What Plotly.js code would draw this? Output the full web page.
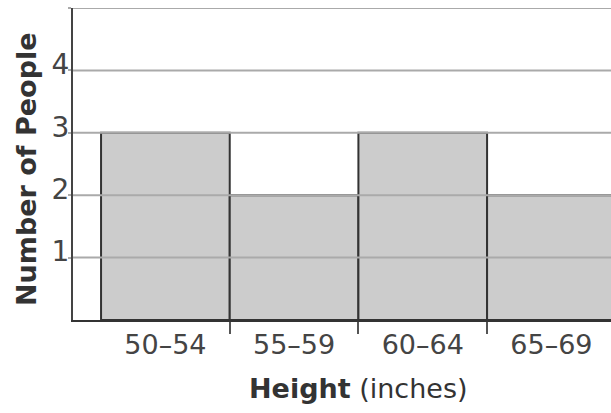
<!DOCTYPE html>
<html>
<head>
<meta charset="utf-8">
<script src="https://cdn.plot.ly/plotly-3.0.1.min.js"></script>
<style>html,body{margin:0;padding:0;background:#fff;}#chart{width:611px;height:413px;}</style>
</head>
<body>
<div id="chart"></div>
<script>
const categories = ['50–54', '55–59', '60–64', '65–69'];
const counts = [3, 2, 3, 2];
const yTickVals = [1, 2, 3, 4, 5];
const yTickText = ['1', '2', '3', '4', ''];
const xTitle = '<b>Height</b> (inches)';
const yTitle = '<b>Number of People</b>';

const xPos = categories.map((c, i) => i);
const boundaries = categories.slice(1).map((c, i) => i + 0.5);

const font = 'DejaVu Sans, Verdana, sans-serif';

// gridlines drawn above the bars, as in the reference
const gridShapes = yTickVals.map(v => ({
  type: 'line', xref: 'paper', yref: 'y', x0: 0, x1: 1, y0: v, y1: v,
  line: {color: '#aaaaaa', width: 2}, layer: 'above'
}));

Plotly.newPlot('chart', [{
  type: 'bar',
  x: xPos,
  y: counts,
  width: 1,
  marker: {color: '#cccccc', line: {color: '#333333', width: 2}},
  hoverinfo: 'none'
}], {
  width: 611, height: 413,
  margin: {l: 73, r: 0, t: 8, b: 93, pad: 0},
  paper_bgcolor: '#ffffff', plot_bgcolor: '#ffffff',
  showlegend: false,
  bargap: 0,
  font: {family: font, color: '#444444'},
  shapes: gridShapes,
  xaxis: {
    range: [-0.718, 3.463],
    tickmode: 'array', tickvals: xPos, ticktext: categories,
    ticks: '', showgrid: false, zeroline: false,
    showline: true, linecolor: '#333333', linewidth: 2,
    tickfont: {size: 27, color: '#444444', family: font},
    ticklabelstandoff: 0,
    layer: 'above traces',
    minor: {tickmode: 'array', tickvals: boundaries, ticks: 'outside', ticklen: 12, tickwidth: 2, tickcolor: '#555555', showgrid: false}
  },
  yaxis: {
    range: [0, 5],
    tickmode: 'array', tickvals: yTickVals, ticktext: yTickText,
    ticks: 'outside', ticklen: 3, tickwidth: 2, tickcolor: '#aaaaaa',
    showgrid: false,
    zeroline: false,
    showline: true, linecolor: '#444444', linewidth: 2,
    tickfont: {size: 28, color: '#444444', family: font},
    ticklabelstandoff: -7,
    ticklabelshift: -6,
    layer: 'above traces'
  },
  annotations: [
    {text: xTitle, xref: 'paper', yref: 'paper', x: 0.531, y: -0.218, xanchor: 'center', yanchor: 'middle', showarrow: false, font: {size: 27, color: '#333333', family: font}},
    {text: yTitle, xref: 'paper', yref: 'paper', x: -0.0855, y: 0.484, xanchor: 'center', yanchor: 'middle', textangle: -90, showarrow: false, font: {size: 27, color: '#333333', family: font}}
  ]
}, {staticPlot: true});
</script>
</body>
</html>
